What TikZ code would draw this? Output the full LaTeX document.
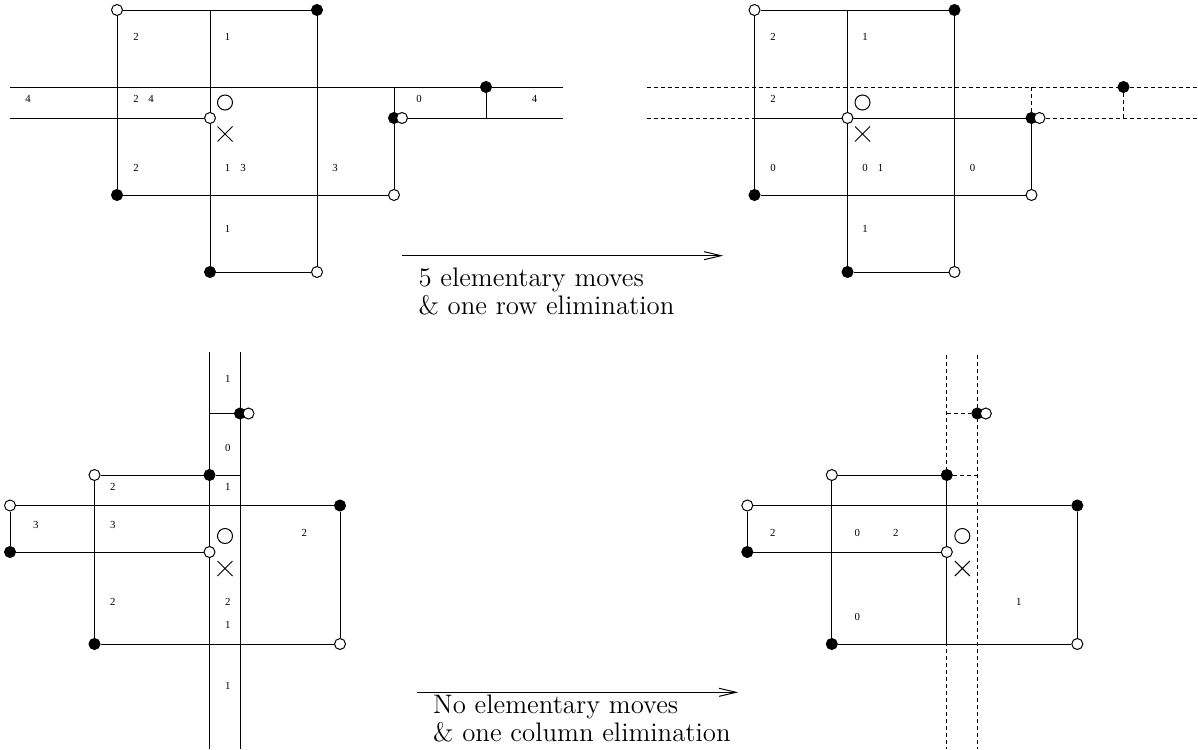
\documentclass[tikz,border=0pt]{standalone}
\usepackage{fontspec}
\newfontfamily\numfont{Liberation Serif}
\usetikzlibrary{arrows.meta,shapes.misc}
\pgfdeclarelayer{bg}
\pgfsetlayers{bg,main}
\begin{document}
\begin{tikzpicture}[
		x=0.5pt, y=-0.5pt,
		line width=0.5pt,
		pt/.style={circle,draw,inner sep=0pt,minimum size=5.5pt},
		wht/.style={pt,fill=white},
		blk/.style={pt,fill=black},
		ring/.style={circle,draw,inner sep=0pt,minimum size=7.5pt},
		crs/.style={cross out,draw,inner sep=0pt,minimum size=7pt},
		num/.style={font=\numfont\fontsize{5.4}{6}\selectfont,inner sep=0pt},
		msg/.style={font=\fontsize{13.4}{15}\selectfont,inner sep=0pt,anchor=base west},
		dsh/.style={dash pattern=on 2pt off 1.5pt},
		mv/.style={-{Straight Barb[length=8.5pt,width=4pt]}}
	]
	\useasboundingbox (0,0) rectangle (1198,749);

	% top left
	\node[wht] (a1) at (117,10) {};
	\node[blk] (a2) at (317,10) {};
	\node[blk] (a3) at (210,272) {};
	\node[wht] (a4) at (317,272) {};
	\node[blk] (a5) at (117,195) {};
	\node[wht] (a6) at (394,195) {};
	\node[wht] (a7) at (210,118) {};
	\node[blk] (a8) at (394,118) {};
	\node[wht] (a9) at (402,118) {};
	\node[blk] (a10) at (486,87) {};
	\coordinate (a0) at (210,10);
	\coordinate (ac) at (394,87);
	\coordinate (ad) at (486,118);
	\coordinate (aw1) at (10,87);
	\coordinate (ae1) at (563,87);
	\coordinate (aw2) at (10,118);
	\coordinate (ae2) at (563,118);
	\node[ring] (ao) at (225,102.5) {};
	\node[crs] (ax) at (225,134) {};
	\node[num] (na1) at (136,37) {2};
	\node[num] (na2) at (227.5,37) {1};
	\node[num] (na3) at (28,99) {4};
	\node[num] (na4) at (136,99) {2};
	\node[num] (na5) at (151,99) {4};
	\node[num] (na6) at (419,99) {0};
	\node[num] (na7) at (534.5,99) {4};
	\node[num] (na8) at (136,168) {2};
	\node[num] (na9) at (227.5,168) {1};
	\node[num] (na10) at (243,168) {3};
	\node[num] (na11) at (335,168) {3};
	\node[num] (na12) at (227.5,229) {1};

	% top right
	\node[wht] (b1) at (754.5,10) {};
	\node[blk] (b2) at (954.5,10) {};
	\node[blk] (b3) at (847.5,272) {};
	\node[wht] (b4) at (954.5,272) {};
	\node[blk] (b5) at (754.5,195) {};
	\node[wht] (b6) at (1031.5,195) {};
	\node[wht] (b7) at (847.5,118) {};
	\node[blk] (b8) at (1031.5,118) {};
	\node[wht] (b9) at (1039.5,118) {};
	\node[blk] (b10) at (1123.5,87) {};
	\coordinate (b0) at (847.5,10);
	\coordinate (bl) at (754.5,118);
	\coordinate (bc) at (1031.5,87);
	\coordinate (bd) at (1123.5,118);
	\coordinate (bw1) at (646.5,87);
	\coordinate (be1) at (1198,87);
	\coordinate (bw2) at (646.5,118);
	\coordinate (be2) at (1198,118);
	\node[ring] (bo) at (862.5,102.5) {};
	\node[crs] (bx) at (862.5,134) {};
	\node[num] (nb1) at (773,37) {2};
	\node[num] (nb2) at (865,37) {1};
	\node[num] (nb3) at (773,99) {2};
	\node[num] (nb4) at (773,168) {0};
	\node[num] (nb5) at (865,168) {0};
	\node[num] (nb6) at (880.5,168) {1};
	\node[num] (nb7) at (972.5,168) {0};
	\node[num] (nb8) at (865,229) {1};

	% bottom left
	\node[blk] (c1) at (240,413.5) {};
	\node[wht] (c2) at (248.5,413.5) {};
	\node[blk] (c3) at (209.5,475) {};
	\node[wht] (c4) at (94.5,475) {};
	\node[wht] (c5) at (10,505.5) {};
	\node[blk] (c6) at (340,505.5) {};
	\node[blk] (c7) at (10,552) {};
	\node[wht] (c8) at (209.5,552) {};
	\node[blk] (c9) at (94.5,644) {};
	\node[wht] (c10) at (340,644) {};
	\coordinate (ct1) at (209.5,352);
	\coordinate (cb1) at (209.5,749);
	\coordinate (ct2) at (240,352);
	\coordinate (cb2) at (240,749);
	\coordinate (cl) at (209.5,413.5);
	\coordinate (cr) at (240,475);
	\node[ring] (co) at (225,536) {};
	\node[crs] (cx) at (225,568.5) {};
	\node[num] (nc1) at (227.7,379) {1};
	\node[num] (nc2) at (227.7,447.7) {0};
	\node[num] (nc3) at (112.7,487.3) {2};
	\node[num] (nc4) at (227.7,487.3) {1};
	\node[num] (nc5) at (35.7,525) {3};
	\node[num] (nc6) at (112.7,525) {3};
	\node[num] (nc7) at (304.3,532.7) {2};
	\node[num] (nc8) at (112.7,601.7) {2};
	\node[num] (nc9) at (227.7,601.7) {2};
	\node[num] (nc10) at (227.7,625) {1};
	\node[num] (nc11) at (227.7,686) {1};

	% bottom right
	\node[blk] (d1) at (977.3,413.5) {};
	\node[wht] (d2) at (985.8,413.5) {};
	\node[wht] (d3) at (831.8,475) {};
	\node[blk] (d4) at (946.8,475) {};
	\node[wht] (d5) at (747.3,505.5) {};
	\node[blk] (d6) at (1077.3,505.5) {};
	\node[blk] (d7) at (747.3,552) {};
	\node[wht] (d8) at (946.8,552) {};
	\node[blk] (d9) at (831.8,644) {};
	\node[wht] (d10) at (1077.3,644) {};
	\coordinate (dt1) at (946.8,355);
	\coordinate (db1) at (946.8,749);
	\coordinate (dt2) at (977.3,355);
	\coordinate (db2) at (977.3,749);
	\coordinate (dl) at (946.8,413.5);
	\coordinate (dr) at (977.3,475);
	\coordinate (dm) at (946.8,644);
	\node[ring] (do) at (962.3,536) {};
	\node[crs] (dx) at (962.3,568.5) {};
	\node[num] (nd1) at (772.7,532.7) {2};
	\node[num] (nd2) at (857.3,532.7) {0};
	\node[num] (nd3) at (895.7,532.7) {2};
	\node[num] (nd4) at (1018.7,601.7) {1};
	\node[num] (nd5) at (857.3,616.7) {0};

	% moves
	\coordinate (m1s) at (401.7,255.7);
	\coordinate (m1e) at (723.3,255.7);
	\coordinate (m2s) at (416.7,692.3);
	\coordinate (m2e) at (738.3,692.3);
	\node[msg] (t1a) at (418,286.7) {5 elementary moves};
	\node[msg] (t1b) at (418,314.5) {\& one row elimination};
	\node[msg] (t2a) at (432.7,713.3) {No elementary moves};
	\node[msg] (t2b) at (432.7,741.7) {\& one column elimination};
	\draw[mv] (m1s) -- (m1e);
	\draw[mv] (m2s) -- (m2e);

	\begin{pgfonlayer}{bg}
		\draw (a1) -- (a2) (a1) -- (a5) (a2) -- (a4) (a3) -- (a4)
			(a0) -- (a3) (a5) -- (a6) (a6) -- (ac)
			(aw1) -- (ae1) (aw2) -- (a7) (a9) -- (ae2) (a10) -- (ad);
		\draw (b1) -- (b2) (b1) -- (b5) (b2) -- (b4) (b3) -- (b4)
			(b0) -- (b3) (b5) -- (b6) (b6) -- (b8) (bl) -- (b8);
		\draw[dsh] (bw1) -- (be1) (bw2) -- (bl) (b9) -- (be2)
			(bc) -- (b8) (b10) -- (bd);
		\draw (ct1) -- (cb1) (ct2) -- (cb2) (cl) -- (c1)
			(c4) -- (c3) (c3) -- (cr) (c5) -- (c6) (c5) -- (c7)
			(c7) -- (c8) (c4) -- (c9) (c9) -- (c10) (c6) -- (c10);
		\draw (d3) -- (d4) (d5) -- (d6) (d5) -- (d7) (d7) -- (d8)
			(d3) -- (d9) (d9) -- (d10) (d6) -- (d10) (d4) -- (dm);
		\draw[dsh] (dt1) -- (db1) (dt2) -- (db2) (dl) -- (d1) (d4) -- (dr);
	\end{pgfonlayer}
\end{tikzpicture}
\end{document}
